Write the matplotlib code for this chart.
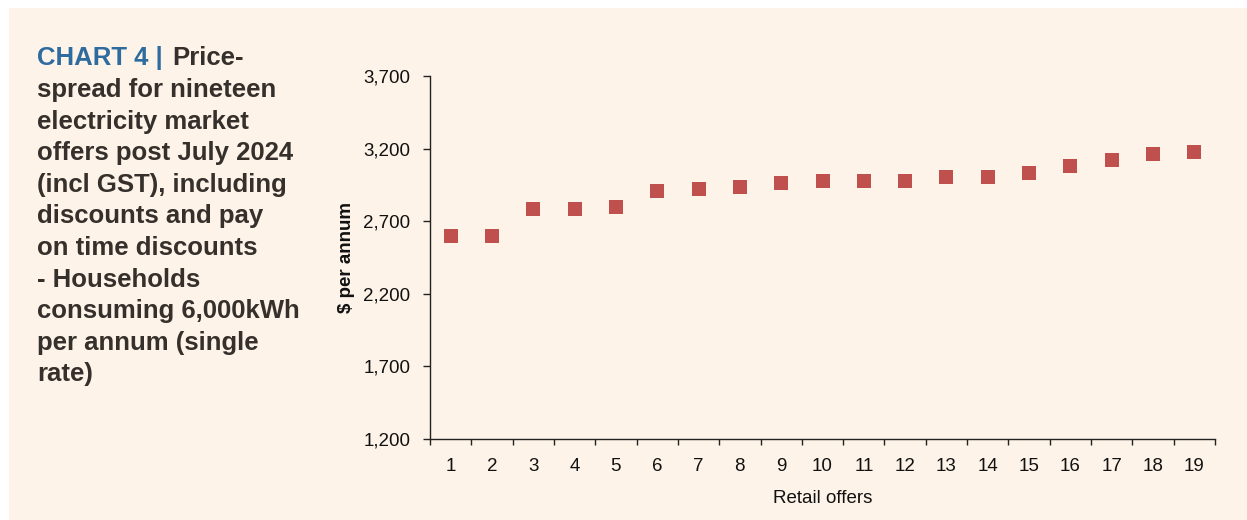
import numpy as np
import matplotlib
from matplotlib import pyplot as plt
from matplotlib.patches import Rectangle

# data
offers = list(range(1, 20))
price = [2600, 2600, 2783, 2783, 2798, 2909, 2925, 2938, 2964, 2980,
         2980, 2978, 3007, 3007, 3035, 3079, 3120, 3161, 3175]
yticks = [1200, 1700, 2200, 2700, 3200, 3700]

bg = '#fdf3e8'
red = '#c0504d'
dark = '#35302b'
blue = '#2e6b9e'

plt.rcParams['font.family'] = ['Liberation Sans', 'DejaVu Sans']

fig = plt.figure(figsize=(12.47, 5.2), dpi=100)
fig.patch.set_facecolor('white')
fig.add_artist(Rectangle((9 / 1247, 0), 1, 1 - 8 / 520, transform=fig.transFigure,
                         facecolor=bg, edgecolor='none', zorder=-10))

ax = fig.add_axes([430 / 1247, 1 - 439 / 520, (1215 - 430) / 1247, (439 - 76) / 520])
ax.set_facecolor('none')
ax.plot(offers, price, 's', color=red, markersize=9.5, markeredgewidth=0)

ax.set_xlim(0.5, 19.5)
ax.set_ylim(1200, 3700)
ax.set_xticks(np.arange(0.5, 20, 1))
ax.set_xticklabels([])
ax.set_xticks(offers, minor=True)
ax.set_xticklabels([str(i) for i in offers], minor=True)
ax.tick_params(axis='x', which='minor', length=0, pad=13.5, labelsize=13.5, labelcolor='#111111')
ax.tick_params(axis='x', which='major', length=4.5, width=1, color='#222222')
ax.set_yticks(yticks)
ax.set_yticklabels([f'{v:,}' for v in yticks])
ax.tick_params(axis='y', length=5, width=1, color='#222222', labelsize=13.5,
               labelcolor='#111111', pad=9)
for s in ['top', 'right']:
    ax.spines[s].set_visible(False)
for s in ['left', 'bottom']:
    ax.spines[s].set_color('#222222')
    ax.spines[s].set_linewidth(1)

ax.set_xlabel('Retail offers', fontsize=13.5, color='#111111', labelpad=11)
ax.set_ylabel('$ per annum', fontsize=13.5, fontweight='bold', color='#111111', labelpad=6)

# title block on the left
fs = 18.5
fig.text(37 / 1247, 1 - 46 / 520, 'CHART 4 |', color=blue, fontsize=fs,
         fontweight='bold', va='top')
fig.text(172 / 1247, 1 - 46 / 520, 'Price-', color=dark, fontsize=fs,
         fontweight='bold', va='top')
body = ('spread for nineteen\nelectricity market\noffers post July 2024\n'
        '(incl GST), including\ndiscounts and pay\non time discounts\n'
        '- Households\nconsuming 6,000kWh\nper annum (single\nrate)')
fig.text(37 / 1247, 1 - 78 / 520, body, color=dark, fontsize=fs,
         fontweight='bold', va='top', linespacing=1.4)

fig.savefig('out.png', dpi=100, facecolor=fig.get_facecolor())
